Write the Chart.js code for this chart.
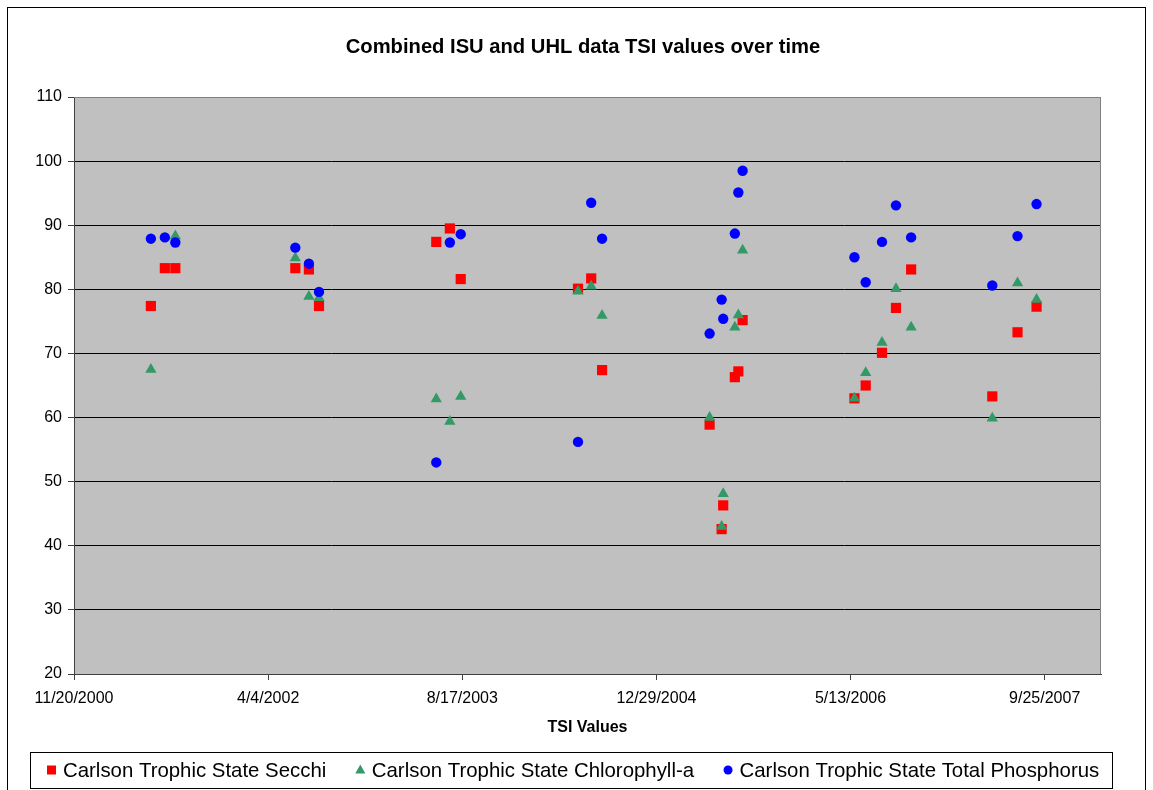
<!DOCTYPE html>
<html>
<head>
<meta charset="utf-8">
<title>Combined ISU and UHL data TSI values over time</title>
<script src="https://cdn.jsdelivr.net/npm/chart.js@4/dist/chart.umd.min.js"></script>
<style>
    html, body { margin: 0; padding: 0; background: #fff; overflow: hidden; }
    #wrap { position: relative; width: 1153px; height: 790px; }
</style>
</head>
<body>
<div id="wrap"><canvas id="tsiChart"></canvas></div>
<script>
// Sampling dates (one entry per sampling event)
const sampleDates = [
    '2001-06-06', '2001-07-12', '2001-08-08',
    '2002-06-13', '2002-07-18', '2002-08-13',
    '2003-06-11', '2003-07-16', '2003-08-13',
    '2004-06-10', '2004-07-14', '2004-08-11',
    '2005-05-15', '2005-06-15', '2005-06-19', '2005-07-19', '2005-07-28', '2005-08-08',
    '2006-05-23', '2006-06-21', '2006-08-02', '2006-09-07', '2006-10-16',
    '2007-05-13', '2007-07-17', '2007-09-04'
];

// TSI values per series (null = no sample)
const secchiTSI = [
    77.4, 83.3, 83.3,
    83.3, 83.1, 77.4,
    87.4, 89.5, 81.6,
    80.1, 81.7, 67.4,
    58.9, 42.6, 46.3, 66.3, 67.2, 75.2,
    63.0, 65.0, 70.1, 77.1, 83.1,
    63.3, 73.3, 77.3
];
const chlorophyllTSI = [
    67.5, null, 88.3,
    84.9, 78.9, 78.7,
    62.9, 59.4, 63.3,
    79.7, 80.5, 75.9,
    60.0, 43.0, 48.1, 74.1, 76.0, 86.1,
    63.0, 67.0, 71.7, 80.1, 74.1,
    59.9, 81.0, 78.4
];
const phosphorusTSI = [
    87.9, 88.1, 87.3,
    86.5, 84.0, 79.6,
    53.0, 87.3, 88.6,
    56.2, 93.5, 87.9,
    73.1, 78.4, 75.4, 88.7, 95.1, 98.5,
    85.0, 81.1, 87.4, 93.1, 88.1,
    80.6, 88.3, 93.3
];

const seriesNames = [
    'Carlson Trophic State Secchi',
    'Carlson Trophic State Chlorophyll-a',
    'Carlson Trophic State Total Phosphorus'
];

const chartTitle = 'Combined ISU and UHL data TSI values over time';

// Axis ticks
const xTickLabels = ['11/20/2000', '4/4/2002', '8/17/2003', '12/29/2004', '5/13/2006', '9/25/2007'];
const xAxisEnd = '2/17/2008';
const yTicks = [20, 30, 40, 50, 60, 70, 80, 90, 100, 110];

const FONT = '"Liberation Sans", Arial, Helvetica, sans-serif';

// date string -> Excel-style day serial
function toSerial(str) {
    let y, m, d;
    if (str.indexOf('/') >= 0) {
        [m, d, y] = str.split('/').map(Number);
    } else {
        [y, m, d] = str.split('-').map(Number);
    }
    return Date.UTC(y, m - 1, d) / 86400000 + 25569;
}

function toPoints(values) {
    const pts = [];
    values.forEach((v, i) => {
        if (v !== null) pts.push({ x: toSerial(sampleDates[i]), y: v });
    });
    return pts;
}

const styles = [
    { color: '#FF0000', shape: 'rect', radius: 7.2 },
    { color: '#339966', shape: 'triangle', radius: 6.5 },
    { color: '#0000FF', shape: 'circle', radius: 5.2 }
];

// plot background, frame, plot border and title
const framePlugin = {
    id: 'frame',
    beforeDraw(chart) {
        const { ctx, chartArea: a } = chart;
        ctx.save();
        ctx.fillStyle = '#fff';
        ctx.fillRect(0, 0, chart.width, chart.height);
        ctx.strokeStyle = '#000';
        ctx.lineWidth = 1;
        ctx.strokeRect(7.5, 7.5, 1138, 900);
        ctx.fillStyle = '#C0C0C0';
        ctx.fillRect(a.left, a.top, a.right - a.left, a.bottom - a.top);

        ctx.fillStyle = '#000';
        ctx.font = 'bold 20.2px ' + FONT;
        ctx.textAlign = 'center';
        ctx.textBaseline = 'middle';
        ctx.fillText(chartTitle, 583, 47);
        ctx.restore();
    },
    beforeDatasetsDraw(chart) {
        const { ctx, chartArea: a } = chart;
        ctx.save();
        ctx.strokeStyle = '#808080';
        ctx.lineWidth = 1;
        ctx.beginPath();
        ctx.moveTo(a.left, a.top + 0.5);
        ctx.lineTo(a.right - 0.5, a.top + 0.5);
        ctx.lineTo(a.right - 0.5, a.bottom);
        ctx.stroke();
        ctx.restore();
    }
};

// boxed legend under the chart
const boxLegendPlugin = {
    id: 'boxLegend',
    afterDraw(chart) {
        const ctx = chart.ctx;
        const cy = 770;
        ctx.save();
        ctx.font = '20.4px ' + FONT;
        ctx.textBaseline = 'middle';
        ctx.textAlign = 'left';
        let x = 47;
        let lastEnd = x;
        seriesNames.forEach((name, i) => {
            const s = styles[i];
            const mx = x + 4.5;
            ctx.fillStyle = s.color;
            ctx.beginPath();
            if (s.shape === 'rect') {
                ctx.rect(mx - 4.5, cy - 4.5, 9, 9);
            } else if (s.shape === 'triangle') {
                ctx.moveTo(mx, cy - 5.5);
                ctx.lineTo(mx + 5, cy + 3.5);
                ctx.lineTo(mx - 5, cy + 3.5);
                ctx.closePath();
            } else {
                ctx.arc(mx, cy, 4.5, 0, Math.PI * 2);
            }
            ctx.fill();
            ctx.fillStyle = '#000';
            const tx = x + 16;
            ctx.fillText(name, tx, cy + 1);
            lastEnd = tx + ctx.measureText(name).width;
            x = lastEnd + 29.5;
        });
        ctx.strokeStyle = '#000';
        ctx.lineWidth = 1;
        ctx.strokeRect(30.5, 752.5, Math.round(lastEnd + 13) - 30, 36);
        ctx.restore();
    }
};

const ctx = document.getElementById('tsiChart').getContext('2d');
const tsiChart = new Chart(ctx, {
    type: 'scatter',
    data: {
        datasets: [secchiTSI, chlorophyllTSI, phosphorusTSI].map((vals, i) => ({
            label: seriesNames[i],
            data: toPoints(vals),
            pointStyle: styles[i].shape,
            pointRadius: styles[i].radius,
            pointHoverRadius: styles[i].radius,
            backgroundColor: styles[i].color,
            borderColor: styles[i].color,
            borderWidth: 0,
            order: 3 - i
        }))
    },
    options: {
        responsive: true,
        maintainAspectRatio: false,
        animation: false,
        events: [],
        layout: { padding: { left: 20, right: 52, top: 97, bottom: 42 } },
        scales: {
            x: {
                type: 'linear',
                min: toSerial(xTickLabels[0]),
                max: toSerial(xAxisEnd),
                afterBuildTicks: (scale) => {
                    scale.ticks = xTickLabels.map(l => ({ value: toSerial(l) }));
                },
                afterFit: (scale) => { scale.height = 74; },
                ticks: {
                    callback: (value, index) => xTickLabels[index],
                    color: '#000',
                    font: { family: FONT, size: 16 },
                    padding: 9,
                    maxRotation: 0,
                    autoSkip: false
                },
                grid: {
                    drawOnChartArea: false,
                    tickLength: 6,
                    tickColor: '#404040'
                },
                border: { color: '#404040', width: 1 },
                title: {
                    display: true,
                    text: 'TSI Values',
                    color: '#000',
                    font: { family: FONT, size: 16, weight: 'bold' },
                    padding: { top: 4, bottom: 11 }
                }
            },
            y: {
                min: yTicks[0],
                max: yTicks[yTicks.length - 1],
                afterBuildTicks: (scale) => {
                    scale.ticks = yTicks.map(v => ({ value: v }));
                },
                afterFit: (scale) => { scale.width = 54; },
                ticks: {
                    callback: (value) => String(value),
                    color: '#000',
                    font: { family: FONT, size: 16 },
                    padding: 6,
                    autoSkip: false
                },
                grid: {
                    color: (c) => (c.tick && c.tick.value === 110 ? '#808080' : '#000'),
                    lineWidth: 1,
                    tickLength: 6,
                    tickColor: '#404040'
                },
                border: { color: '#404040', width: 1 }
            }
        },
        plugins: {
            legend: { display: false },
            tooltip: { enabled: false },
            title: { display: false }
        }
    },
    plugins: [framePlugin, boxLegendPlugin]
});
</script>
</body>
</html>
